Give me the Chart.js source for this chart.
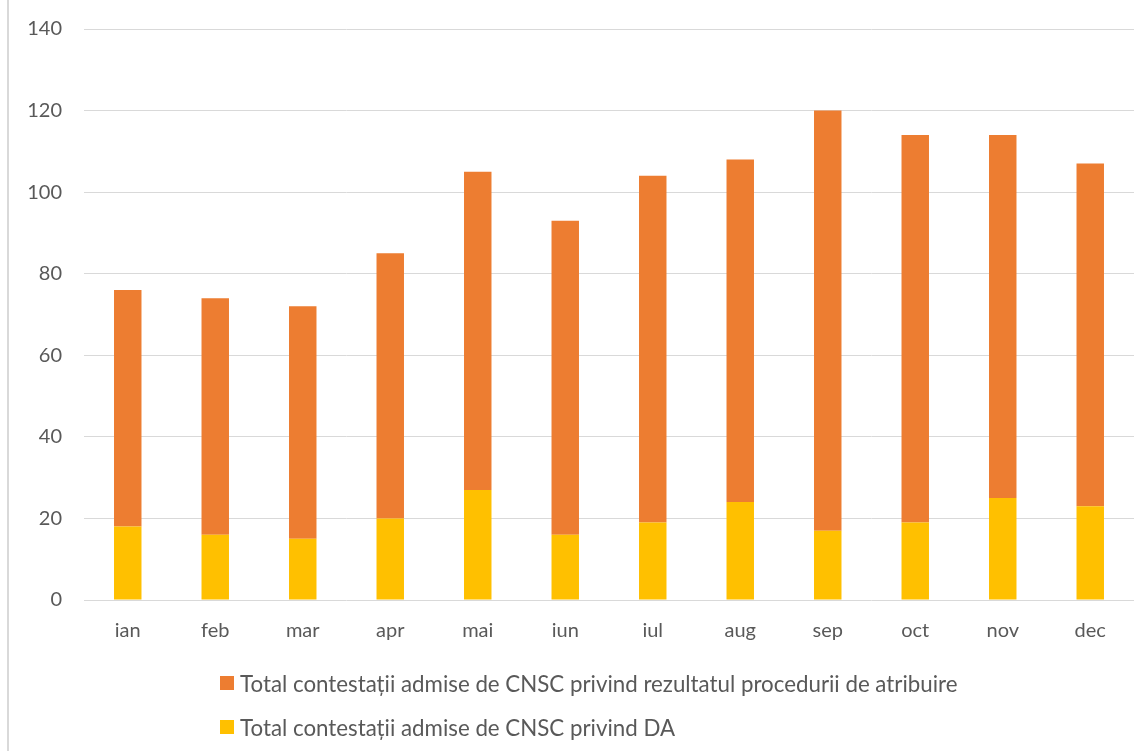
<!DOCTYPE html>
<html>
<head>
<meta charset="utf-8">
<script src="https://cdn.jsdelivr.net/npm/chart.js@4/dist/chart.umd.min.js"></script>
<style>
  html, body { margin: 0; padding: 0; background: #fff; }
  #wrap { position: relative; width: 1142px; height: 751px; overflow: hidden; }
  #frame { position: absolute; left: 7px; top: 0; width: 0; height: 751px; border-left: 2px solid #d9d9d9; }
  #chart { position: absolute; left: 0; top: 0; }
  #legend { position: absolute; left: 220px; top: 661px; font-family: Lato, sans-serif; font-size: 22.3px; color: #595959; }
  #legend .row { display: flex; align-items: center; height: 44px; white-space: nowrap; }
  #legend .sw { width: 14px; height: 14px; margin-right: 6px; flex: none; }
</style>
</head>
<body>
<div id="wrap">
  <div id="frame"></div>
  <canvas id="chart" width="1142" height="751"></canvas>
  <div id="legend"></div>
</div>
<script>
// Months
const luni = ['ian', 'feb', 'mar', 'apr', 'mai', 'iun', 'iul', 'aug', 'sep', 'oct', 'nov', 'dec'];
// Admitted appeals on the award result (stacked on top)
const rezultatProcedura = [58, 58, 57, 65, 78, 77, 85, 84, 103, 95, 89, 84];
// Admitted appeals on the tender documentation (bottom segment)
const documentatie = [18, 16, 15, 20, 27, 16, 19, 24, 17, 19, 25, 23];
// Y axis ticks
const yMax = 140;
const yStep = 20;

const numeRezultat = 'Total contestații admise de CNSC privind rezultatul procedurii de atribuire';
const numeDA = 'Total contestații admise de CNSC privind DA';

const textColor = '#595959';
const gridColor = '#d9d9d9';

const chart = new Chart(document.getElementById('chart'), {
  type: 'bar',
  data: {
    labels: luni,
    datasets: [
      { label: numeDA, data: documentatie, backgroundColor: '#FFC000' },
      { label: numeRezultat, data: rezultatProcedura, backgroundColor: '#ED7D31' }
    ]
  },
  options: {
    responsive: false,
    animation: false,
    events: [],
    datasets: { bar: { categoryPercentage: 1, barPercentage: 0.314 } },
    layout: { padding: { top: 29, right: 8, bottom: 89, left: 0 } },
    plugins: { legend: { display: false }, tooltip: { enabled: false } },
    scales: {
      x: {
        stacked: true,
        grid: { display: false, drawTicks: false },
        border: { display: false },
        ticks: { color: textColor, font: { family: 'Lato', size: 20 }, padding: 19 }
      },
      y: {
        stacked: true,
        min: 0,
        max: yMax,
        afterFit: s => { s.width = 84; s.paddingTop = 0; s.paddingBottom = 0; },
        grid: { color: gridColor, lineWidth: 1, drawTicks: false },
        border: { display: false },
        ticks: { stepSize: yStep, color: textColor, font: { family: 'Lato', size: 20 }, padding: 22 }
      }
    }
  }
});

// Legend listed top-down, upper stack segment first
const legend = document.getElementById('legend');
chart.data.datasets.slice().reverse().forEach(ds => {
  const row = document.createElement('div');
  row.className = 'row';
  const sw = document.createElement('span');
  sw.className = 'sw';
  sw.style.background = ds.backgroundColor;
  const txt = document.createElement('span');
  txt.textContent = ds.label;
  row.appendChild(sw);
  row.appendChild(txt);
  legend.appendChild(row);
});
</script>
</body>
</html>
